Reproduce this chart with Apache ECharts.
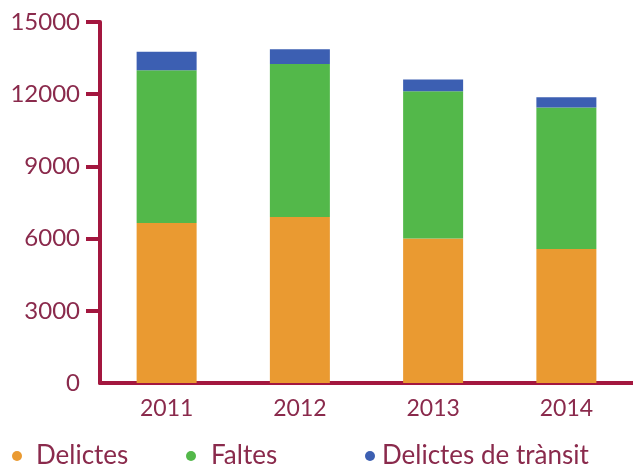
<!DOCTYPE html>
<html>
<head>
<meta charset="utf-8">
<script src="https://cdn.jsdelivr.net/npm/echarts@6/dist/echarts.min.js"></script>
<style>
  html, body { margin: 0; padding: 0; background: #fff; }
  #main { width: 633px; height: 468px; }
</style>
</head>
<body>
<div id="main"></div>
<script>
// dades llegides del gràfic
var years = ['2011', '2012', '2013', '2014'];
var delictes = [6650, 6900, 6000, 5570];
var faltes = [6350, 6350, 6120, 5880];
var transit = [760, 620, 490, 420];
var seriesNames = ['Delictes', 'Faltes', 'Delictes de trànsit'];
var yTicks = [3000, 6000, 9000, 12000, 15000];

var axisColor = '#a3173f';
var textColor = '#8a2a4c';
var font = 'Lato, "Open Sans", sans-serif';

// una llegenda per element, per poder-les col·locar com a l'original
var legendLeft = [12, 186, 365];
var legendPad = [9, 10, 2];

var myChart = echarts.init(document.getElementById('main'));
myChart.setOption({
    animation: false,
    grid: {
        left: 100,
        right: 0,
        top: 22,
        bottom: 85
    },
    legend: seriesNames.map(function (name, i) {
        return {
            data: [name],
            left: legendLeft[i],
            top: 443,
            icon: 'circle',
            itemWidth: 10,
            itemHeight: 10,
            padding: 0,
            textStyle: { color: textColor, fontSize: 26, fontFamily: font, padding: [0, 0, 0, legendPad[i]] }
        };
    }),
    xAxis: {
        type: 'category',
        data: years,
        axisLine: { lineStyle: { color: axisColor, width: 4 } },
        axisTick: { show: false },
        axisLabel: { color: textColor, fontSize: 23, fontFamily: font, margin: 14 }
    },
    yAxis: {
        type: 'value',
        min: 0,
        max: 15000,
        interval: 3000,
        splitLine: { show: false },
        axisLine: { show: true, lineStyle: { color: axisColor, width: 4 } },
        axisTick: {
            show: true, inside: false, length: 14, customValues: yTicks,
            lineStyle: { color: axisColor, width: 4 }
        },
        axisLabel: {
            color: textColor, fontSize: 24, fontFamily: font, margin: 20,
            formatter: function (v) { return String(v); }
        }
    },
    series: [
        { name: seriesNames[0], type: 'bar', stack: 'tot', barWidth: 60, data: delictes, itemStyle: { color: '#ea9a31' } },
        { name: seriesNames[1], type: 'bar', stack: 'tot', barWidth: 60, data: faltes, itemStyle: { color: '#53b84a' } },
        { name: seriesNames[2], type: 'bar', stack: 'tot', barWidth: 60, data: transit, itemStyle: { color: '#3c5fb2' } }
    ]
});
</script>
</body>
</html>
